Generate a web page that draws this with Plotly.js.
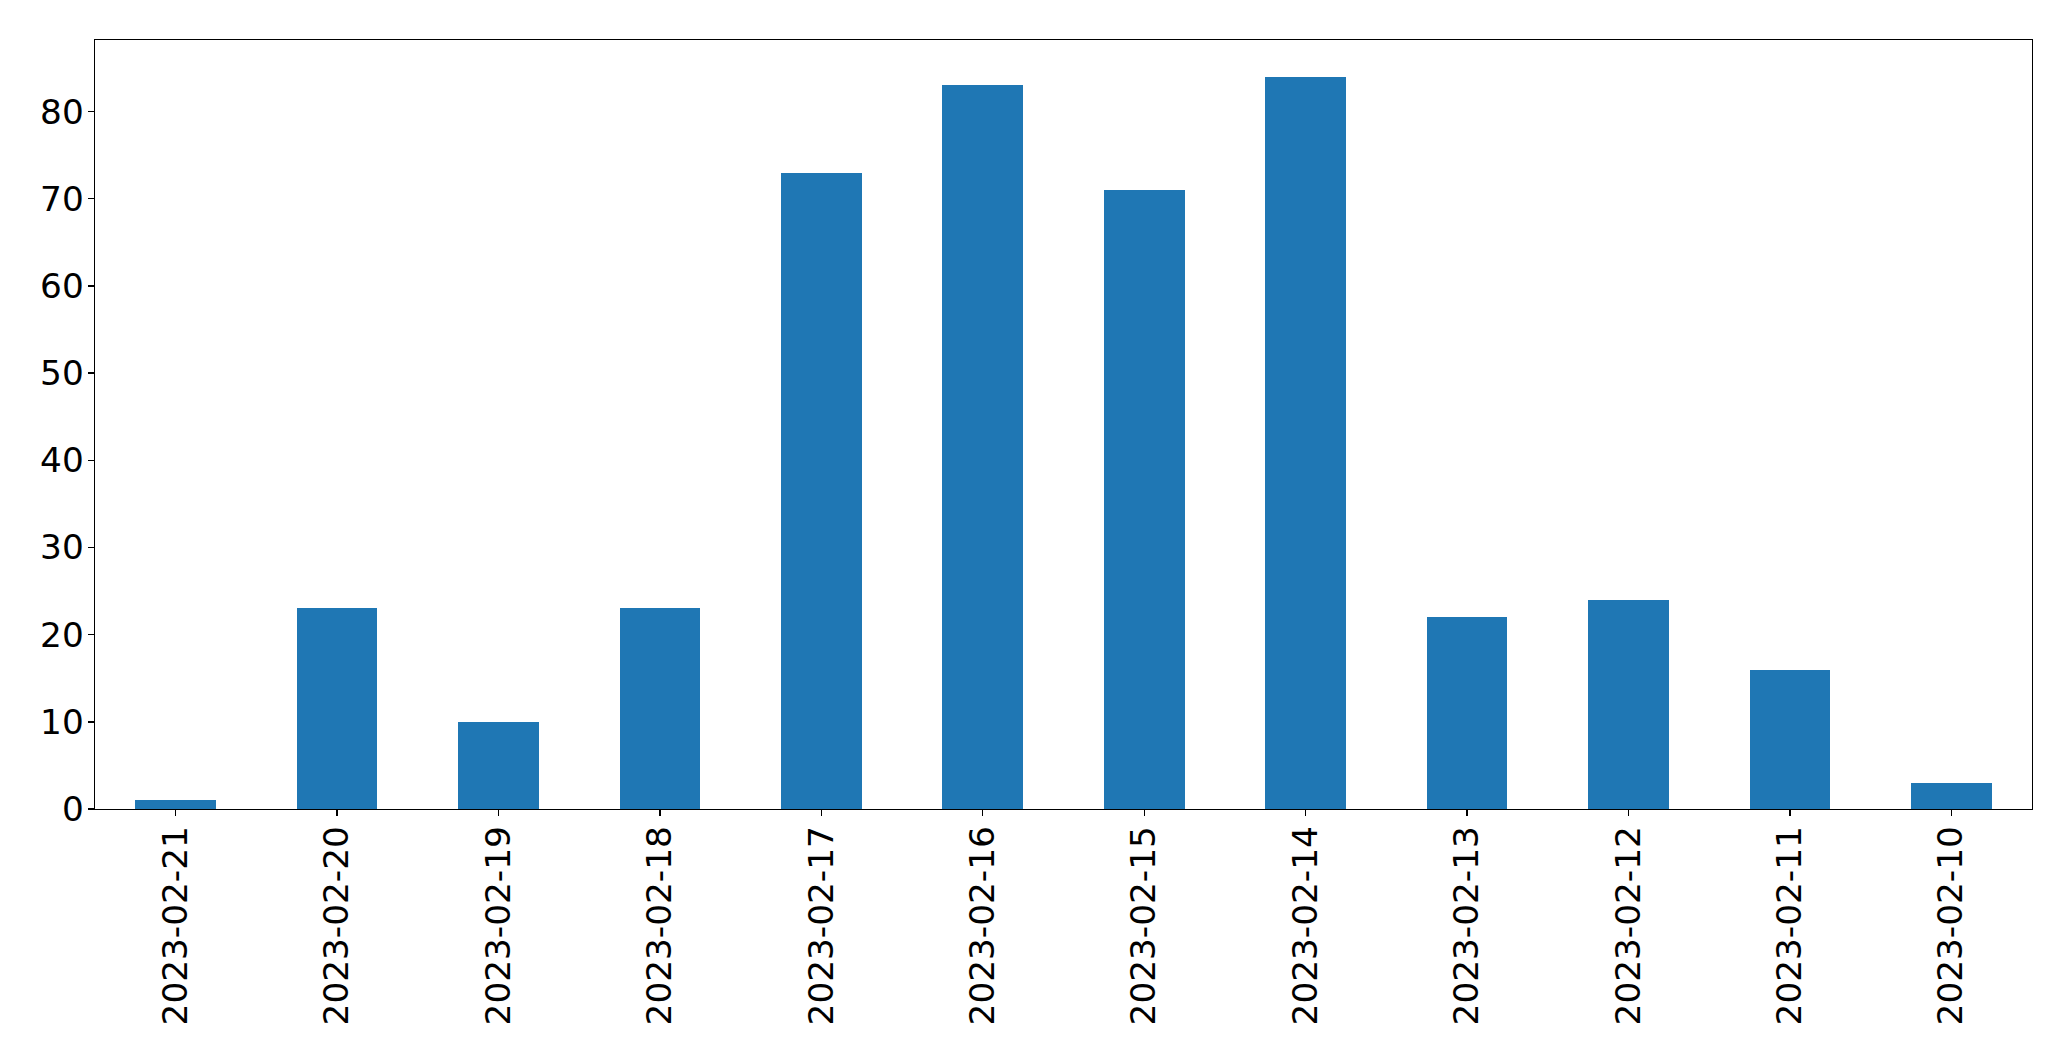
<!DOCTYPE html>
<html>
<head>
<meta charset="utf-8">
<script src="https://cdn.plot.ly/plotly-3.0.1.min.js"></script>
<style>html,body{margin:0;padding:0;background:#fff;}#chart{width:2071px;height:1061px;}</style>
</head>
<body>
<div id="chart"></div>
<script>
const dates = ["2023-02-21","2023-02-20","2023-02-19","2023-02-18","2023-02-17","2023-02-16","2023-02-15","2023-02-14","2023-02-13","2023-02-12","2023-02-11","2023-02-10"];
const counts = [1, 23, 10, 23, 73, 83, 71, 84, 22, 24, 16, 3];
const yTicks = [0, 10, 20, 30, 40, 50, 60, 70, 80];

const trace = {
  type: "bar",
  x: dates.map((d, i) => i),
  y: counts,
  width: 0.5,
  marker: {color: "#1f77b4", line: {width: 0}},
  hoverinfo: "x+y"
};

const font = {family: "DejaVu Sans, sans-serif", size: 34.3, color: "#000"};

const layout = {
  width: 2071, height: 1061,
  margin: {l: 94.5, r: 39.3, t: 39.5, b: 252, pad: 0},
  paper_bgcolor: "#fff", plot_bgcolor: "#fff",
  showlegend: false,
  bargap: 0,
  xaxis: {
    range: [-0.5, dates.length - 0.5],
    tickmode: "array",
    tickvals: dates.map((d, i) => i),
    ticktext: dates,
    tickangle: -90,
    ticks: "outside", ticklen: 6, tickwidth: 1.4, tickcolor: "#000",
    ticklabelstandoff: -4,
    showline: true, linecolor: "#000", linewidth: 1.4, mirror: true,
    showgrid: false, zeroline: false,
    tickfont: font
  },
  yaxis: {
    range: [0, 88.2],
    tickmode: "array",
    tickvals: yTicks,
    ticktext: yTicks.map(String),
    ticks: "outside", ticklen: 6, tickwidth: 1.4, tickcolor: "#000",
    ticklabelstandoff: -3,
    showline: true, linecolor: "#000", linewidth: 1.4, mirror: true,
    showgrid: false, zeroline: false,
    tickfont: font
  }
};

Plotly.newPlot("chart", [trace], layout, {displayModeBar: false, staticPlot: true});
</script>
</body>
</html>
